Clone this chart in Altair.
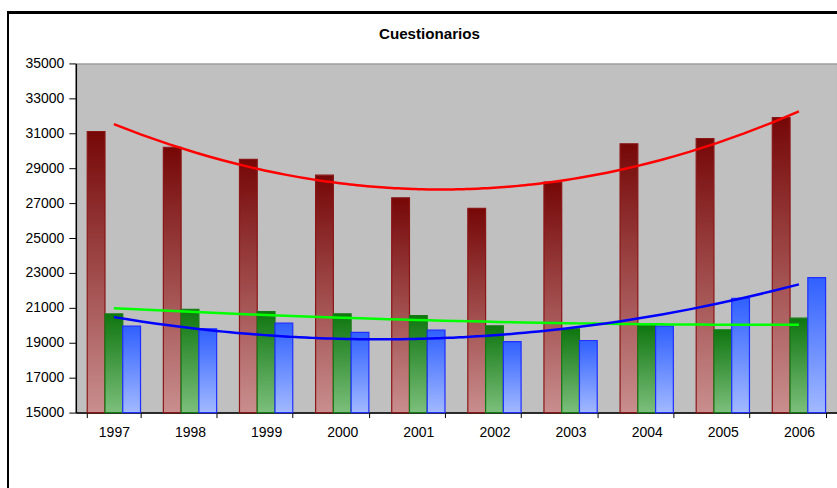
import altair as alt
import pandas as pd

# Annual questionnaire counts, three series per year
years = ["1997", "1998", "1999", "2000", "2001", "2002", "2003", "2004", "2005", "2006"]
serie_roja = [31100, 30200, 29500, 28600, 27300, 26700, 28200, 30400, 30700, 31900]
serie_verde = [20650, 20920, 20790, 20660, 20560, 19970, 19800, 20030, 19740, 20410]
serie_azul = [19950, 19800, 20120, 19590, 19720, 19060, 19130, 19950, 21550, 22730]

series_names = ["Serie 1", "Serie 2", "Serie 3"]
series_values = [serie_roja, serie_verde, serie_azul]

rows = []
for name, vals in zip(series_names, series_values):
    for y, v in zip(years, vals):
        rows.append({"year": y, "year_num": int(y), "series": name, "value": v})
df = pd.DataFrame(rows)

FONT = "Liberation Sans"
W, H = 763, 350


def grad(top, bottom):
    return alt.LinearGradient(
        gradient="linear",
        stops=[alt.GradientStop(offset=0, color=top), alt.GradientStop(offset=1, color=bottom)],
        x1=0, x2=0, y1=0, y2=1,
    )


styles = {
    "Serie 1": (grad("#760707", "#c98e8e"), "#8a1616"),
    "Serie 2": (grad("#0f760f", "#7cbf7c"), "#157a15"),
    "Serie 3": (grad("#3060ff", "#a2b9ff"), "#1f2fff"),
}
line_colors = {"Serie 1": "#ff0000", "Serie 2": "#00ff00", "Serie 3": "#0000ff"}

x_band = alt.X(
    "year:N",
    sort=years,
    scale=alt.Scale(paddingInner=0.3, paddingOuter=0.15),
    axis=alt.Axis(
        title=None, labelAngle=0, tickBand="extent", domainColor="black", domainWidth=1.5,
        tickColor="black", tickSize=5, labelPadding=8, labelFont=FONT, labelFontSize=14,
        labelColor="black", grid=False,
    ),
)
y_scale = alt.Scale(domain=[15000, 35000], zero=False, nice=False)
y_axis = alt.Axis(
    title=None, values=list(range(15000, 35001, 2000)), format="d", grid=False,
    domainColor="black", domainWidth=1.5, tickColor="black", tickSize=7, labelPadding=5,
    labelFont=FONT, labelFontSize=14, labelColor="black",
)

bar_layers = []
for name in series_names:
    fill, stroke = styles[name]
    bar_layers.append(
        alt.Chart(df)
        .transform_filter(alt.datum.series == name)
        .mark_bar(fill=fill, stroke=stroke, strokeWidth=1.2)
        .encode(
            x=x_band,
            xOffset=alt.XOffset("series:N", scale=alt.Scale(domain=series_names, paddingInner=0, paddingOuter=0)),
            y=alt.Y("value:Q", scale=y_scale, axis=y_axis),
            y2=alt.datum(15000),
        )
    )
bars = alt.layer(*bar_layers)

trend_layers = []
for name in series_names:
    trend_layers.append(
        alt.Chart(df)
        .transform_filter(alt.datum.series == name)
        .transform_regression("year_num", "value", method="poly", order=2)
        .mark_line(color=line_colors[name], strokeWidth=2.5)
        .encode(
            x=alt.X("year_num:Q", scale=alt.Scale(domain=[1996.5, 2006.5], nice=False, zero=False), axis=None),
            y=alt.Y("value:Q", scale=y_scale, axis=y_axis),
        )
    )
trends = alt.layer(*trend_layers)

# Outer chart-area frame
frame = alt.Chart(df).mark_rect(filled=False, stroke="black", strokeWidth=1.5, clip=False).encode(
    x=alt.value(-68), x2=alt.value(800), y=alt.value(-51), y2=alt.value(470)
)

chart = (
    alt.layer(bars, trends, frame)
    .resolve_scale(x="independent")
    .properties(
        width=W,
        height=H,
        background="white",
        padding={"left": 76, "top": 63, "right": 0, "bottom": 75},
        autosize=alt.AutoSizeParams(type="none"),
        title=alt.TitleParams(
            text="Cuestionarios", font=FONT, fontSize=15.2, fontWeight="bold", color="black",
            anchor="middle", frame="group", dx=-27, offset=-42, baseline="alphabetic",
        ),
    )
    .configure_view(fill="#c0c0c0", stroke="#808080", strokeWidth=1)
)

chart.save("out.html", embed_options={"renderer": "svg", "actions": False})
